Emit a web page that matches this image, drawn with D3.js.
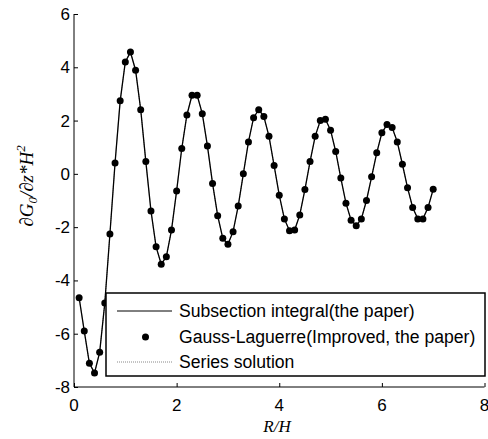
<!DOCTYPE html>
<html>
<head>
<meta charset="utf-8">
<script src="https://cdn.jsdelivr.net/npm/d3@7"></script>
<style>
  html, body { margin: 0; padding: 0; background: #fff; }
  svg { display: block; }
</style>
</head>
<body>
<svg id="chart" width="488" height="439"></svg>
<script>
// R/H sample positions
const rh = [0.1,0.2,0.3,0.4,0.5,0.6,0.7,0.8,0.9,1.0,
            1.1,1.2,1.3,1.4,1.5,1.6,1.7,1.8,1.9,2.0,
            2.1,2.2,2.3,2.4,2.5,2.6,2.7,2.8,2.9,3.0,
            3.1,3.2,3.3,3.4,3.5,3.6,3.7,3.8,3.9,4.0,
            4.1,4.2,4.3,4.4,4.5,4.6,4.7,4.8,4.9,5.0,
            5.1,5.2,5.3,5.4,5.5,5.6,5.7,5.8,5.9,6.0,
            6.1,6.2,6.3,6.4,6.5,6.6,6.7,6.8,6.9,7.0];

// dG0/dz*H^2 values
const gValues = [-4.65,-5.90,-7.11,-7.47,-6.70,-4.85,-2.26,0.41,2.74,4.20,
                 4.57,3.89,2.41,0.46,-1.39,-2.74,-3.39,-3.11,-2.11,-0.64,
                 0.95,2.21,2.95,2.95,2.26,1.05,-0.36,-1.57,-2.42,-2.64,
                 -2.17,-1.21,0.00,1.20,2.11,2.41,2.15,1.41,0.31,-0.80,
                 -1.69,-2.14,-2.11,-1.54,-0.59,0.46,1.41,2.00,2.05,1.64,
                 0.84,-0.16,-1.10,-1.74,-1.95,-1.69,-1.00,-0.11,0.79,1.54,
                 1.85,1.74,1.20,0.36,-0.52,-1.26,-1.69,-1.69,-1.26,-0.58];

const xTicks = [0, 2, 4, 6, 8];
const yTicks = [-8, -6, -4, -2, 0, 2, 4, 6];
const legendLabels = ["Subsection integral(the paper)",
                      "Gauss-Laguerre(Improved, the paper)",
                      "Series solution"];

const SANS = "'Liberation Sans', Arial, sans-serif";
const SERIF = "'Liberation Serif', 'Times New Roman', serif";

const svg = d3.select("#chart");
const plotL = 74, plotR = 484.5, plotT = 14, plotB = 387;

const x = d3.scaleLinear().domain([0, 8]).range([plotL, plotR]);
const y = d3.scaleLinear().domain([-8, 6]).range([plotB, plotT]);

const pts = rh.map((r, i) => ({ r, v: gValues[i] }));
const line = d3.line().x(d => x(d.r)).y(d => y(d.v));

// series solution (dotted grey) underneath
svg.append("path").datum(pts)
  .attr("d", line).attr("fill", "none")
  .attr("stroke", "#888").attr("stroke-width", 1)
  .attr("stroke-dasharray", "1,1");

// subsection integral
svg.append("path").datum(pts)
  .attr("d", line).attr("fill", "none")
  .attr("stroke", "#000").attr("stroke-width", 1.3);

// Gauss-Laguerre points
svg.append("g").selectAll("circle").data(pts).join("circle")
  .attr("cx", d => x(d.r)).attr("cy", d => y(d.v))
  .attr("r", 3.5).attr("fill", "#000");

// axes (ticks pointing inward)
const xAxis = svg.append("g").attr("transform", `translate(0,${plotB})`)
  .call(d3.axisTop(x).tickValues(xTicks).tickSize(4).tickFormat(""));
xAxis.select(".domain").attr("d", `M${plotL},0H${plotR}`);
xAxis.selectAll("line").attr("stroke", "#000");
svg.append("g").selectAll("text").data(xTicks).join("text")
  .attr("x", d => x(d)).attr("y", plotB + 24)
  .attr("text-anchor", "middle")
  .style("font-family", SANS).style("font-size", "17px")
  .text(d => d);

const yAxis = svg.append("g").attr("transform", `translate(${plotL},0)`)
  .call(d3.axisRight(y).tickValues(yTicks).tickSize(4).tickFormat(""));
yAxis.select(".domain").attr("d", `M0,${plotT}V${plotB}`);
yAxis.selectAll("line").attr("stroke", "#000");
svg.append("g").selectAll("text").data(yTicks).join("text")
  .attr("x", plotL - 4).attr("y", d => y(d) + 6)
  .attr("text-anchor", "end")
  .style("font-family", SANS).style("font-size", "17px")
  .text(d => d);

svg.selectAll(".domain").attr("stroke", "#000").attr("stroke-width", 1);

// axis titles
svg.append("text")
  .attr("x", 277).attr("y", 432)
  .attr("text-anchor", "middle")
  .style("font-family", SERIF).style("font-style", "italic").style("font-size", "17px")
  .text("R/H");

const yl = svg.append("text")
  .attr("transform", `translate(33,186) rotate(-90)`)
  .attr("text-anchor", "middle")
  .style("font-family", SERIF).style("font-style", "italic").style("font-size", "19px");
yl.append("tspan").text("\u2202G");
yl.append("tspan").style("font-size", "13px").attr("dy", 4).text("0");
yl.append("tspan").attr("dy", -4).text("/\u2202z*H");
yl.append("tspan").style("font-size", "13px").attr("dy", -8).text("2");

// legend
const lg = svg.append("g");
lg.append("rect")
  .attr("x", 106).attr("y", 293).attr("width", 379).attr("height", 83)
  .attr("fill", "#fff").attr("stroke", "#000").attr("stroke-width", 1.5);
const rowY = [311, 337, 362];
lg.append("line").attr("x1", 117).attr("x2", 172)
  .attr("y1", rowY[0]).attr("y2", rowY[0])
  .attr("stroke", "#000").attr("stroke-width", 1);
lg.append("circle").attr("cx", 145.5).attr("cy", rowY[1])
  .attr("r", 3.5).attr("fill", "#000");
lg.append("line").attr("x1", 117).attr("x2", 172)
  .attr("y1", rowY[2]).attr("y2", rowY[2])
  .attr("stroke", "#888").attr("stroke-width", 1)
  .attr("stroke-dasharray", "1,1");
lg.selectAll("text.lab").data(legendLabels).join("text")
  .attr("class", "lab")
  .attr("x", 179).attr("y", (d, i) => rowY[i] + 6)
  .style("font-family", SANS).style("font-size", "17.6px")
  .text(d => d);
</script>
</body>
</html>
